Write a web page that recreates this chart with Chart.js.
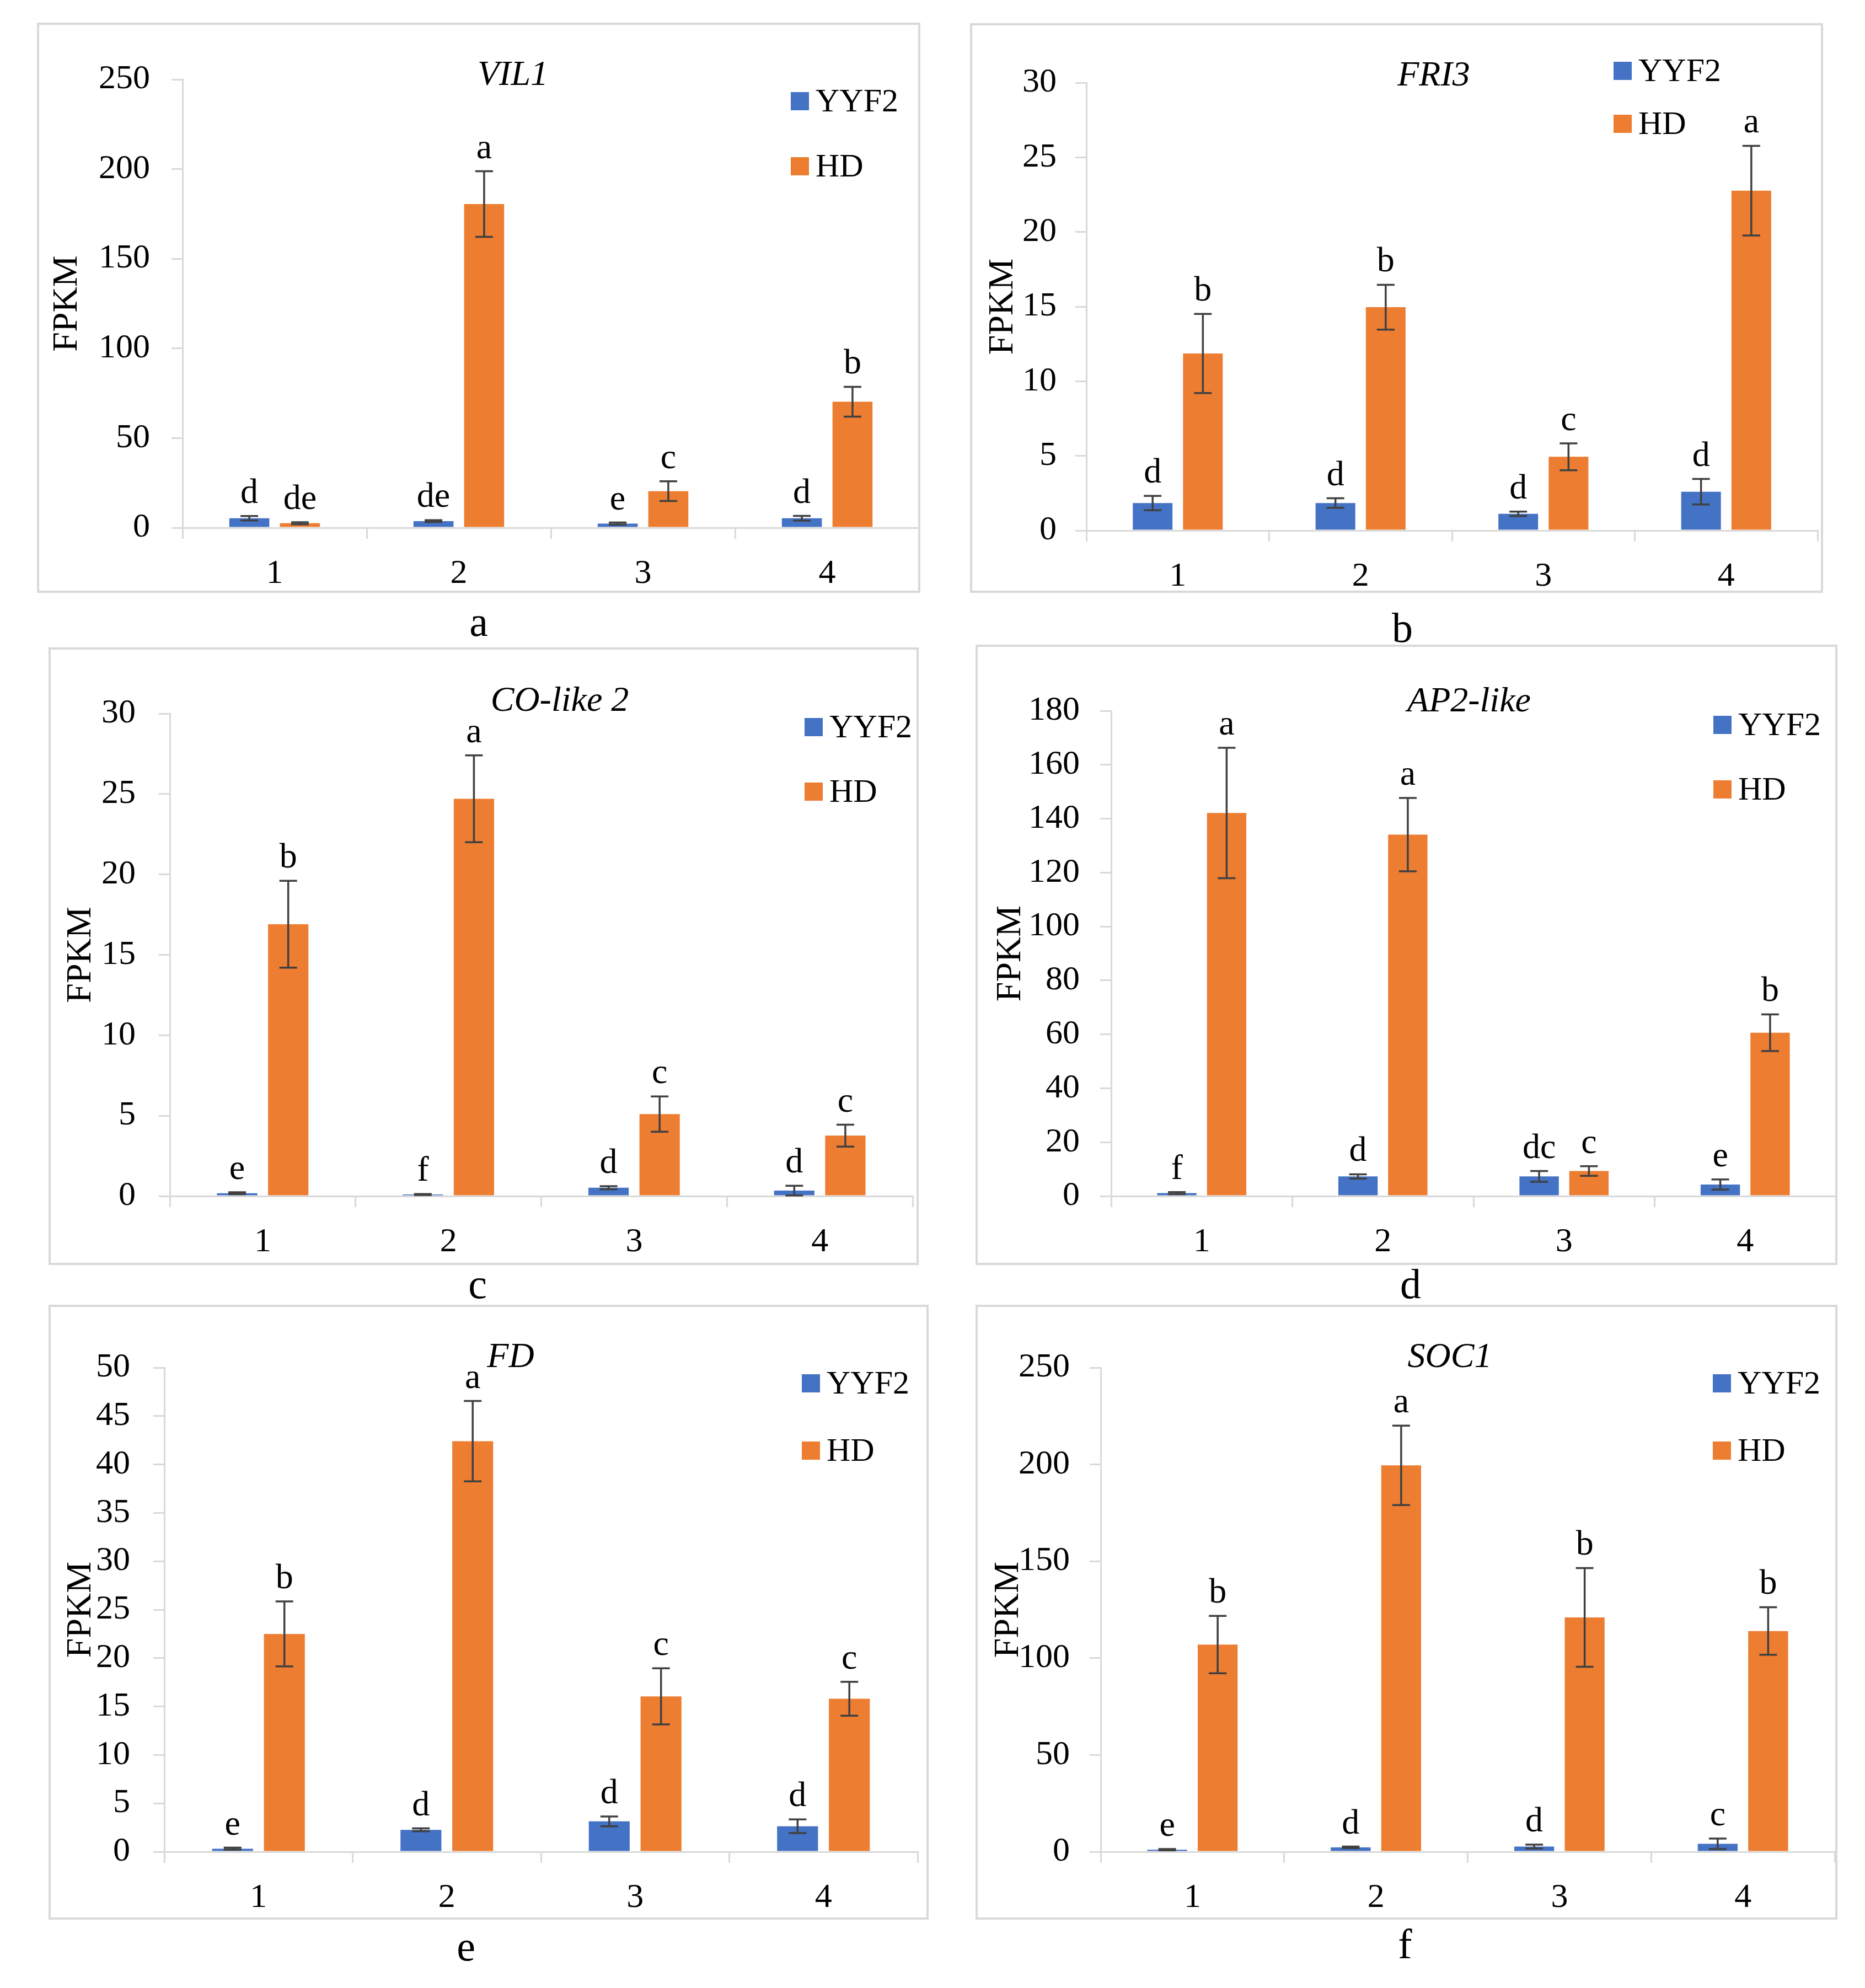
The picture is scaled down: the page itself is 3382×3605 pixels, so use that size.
<!DOCTYPE html>
<html>
<head>
<meta charset="utf-8">
<script src="https://cdn.jsdelivr.net/npm/chart.js@4.4.1/dist/chart.umd.min.js"></script>
<style>
html, body { margin: 0; padding: 0; background: #fff; }
body { width: 3382px; height: 3605px; position: relative; overflow: hidden; font-family: 'Liberation Serif', serif; }
.frame { position: absolute; border: 4px solid #d9d9d9; box-sizing: border-box; pointer-events: none; }
canvas { position: absolute; }
.tag { position: absolute; font-size: 76px; line-height: 1; color: #000; transform: translate(-50%, -50%); }
</style>
</head>
<body>
<script>
// Datos
const categories = ['1', '2', '3', '4'];
const seriesNames = ['YYF2', 'HD'];
const seriesColors = ['#4472C4', '#ED7D31'];

// a - VIL1
const vil1Yyf2 = [5.3, 3.7, 2.3, 5.3];
const vil1Hd = [2.5, 180.5, 20.4, 70.3];
const vil1Yyf2Err = [1.2, 0.5, 0.6, 1.3];
const vil1HdErr = [0.6, 18.3, 5.5, 8.3];
const vil1Yyf2Sig = ['d', 'de', 'e', 'd'];
const vil1HdSig = ['de', 'a', 'c', 'b'];

// b - FRI3
const fri3Yyf2 = [1.84, 1.84, 1.12, 2.6];
const fri3Hd = [11.86, 14.96, 4.94, 22.77];
const fri3Yyf2Err = [0.48, 0.32, 0.15, 0.85];
const fri3HdErr = [2.65, 1.5, 0.9, 3.0];
const fri3Yyf2Sig = ['d', 'd', 'd', 'd'];
const fri3HdSig = ['b', 'b', 'c', 'a'];

// c - CO-like 2
const colYyf2 = [0.18, 0.1, 0.52, 0.34];
const colHd = [16.9, 24.7, 5.1, 3.76];
const colYyf2Err = [0.06, 0.03, 0.1, 0.3];
const colHdErr = [2.7, 2.7, 1.1, 0.68];
const colYyf2Sig = ['e', 'f', 'd', 'd'];
const colHdSig = ['b', 'a', 'c', 'c'];

// d - AP2-like
const ap2Yyf2 = [1.1, 7.3, 7.3, 4.3];
const ap2Hd = [142.1, 134.1, 9.3, 60.6];
const ap2Yyf2Err = [0.4, 0.8, 2.0, 1.9];
const ap2HdErr = [24.2, 13.6, 1.8, 6.8];
const ap2Yyf2Sig = ['f', 'd', 'dc', 'e'];
const ap2HdSig = ['a', 'a', 'c', 'b'];

// e - FD
const fdYyf2 = [0.32, 2.27, 3.14, 2.64];
const fdHd = [22.5, 42.4, 16.05, 15.8];
const fdYyf2Err = [0.1, 0.15, 0.5, 0.7];
const fdHdErr = [3.35, 4.15, 2.9, 1.75];
const fdYyf2Sig = ['e', 'd', 'd', 'd'];
const fdHdSig = ['b', 'a', 'c', 'c'];

// f - SOC1
const soc1Yyf2 = [1.1, 2.3, 2.7, 4.1];
const soc1Hd = [107, 199.5, 121, 114];
const soc1Yyf2Err = [0.3, 0.4, 1.0, 2.7];
const soc1HdErr = [14.8, 20.5, 25.5, 12.3];
const soc1Yyf2Sig = ['e', 'd', 'd', 'c'];
const soc1HdSig = ['b', 'a', 'b', 'b'];

// Ejes
const panelTags = ['a', 'b', 'c', 'd', 'e', 'f'];
const geneNames = ['VIL1', 'FRI3', 'CO-like 2', 'AP2-like', 'FD', 'SOC1'];
const yMax = [250, 30, 30, 180, 50, 250];
const yStep = [50, 5, 5, 20, 5, 50];
const yTitle = 'FPKM';

const panels = [
    { values: [vil1Yyf2, vil1Hd], errors: [vil1Yyf2Err, vil1HdErr], sig: [vil1Yyf2Sig, vil1HdSig] },
    { values: [fri3Yyf2, fri3Hd], errors: [fri3Yyf2Err, fri3HdErr], sig: [fri3Yyf2Sig, fri3HdSig] },
    { values: [colYyf2, colHd], errors: [colYyf2Err, colHdErr], sig: [colYyf2Sig, colHdSig] },
    { values: [ap2Yyf2, ap2Hd], errors: [ap2Yyf2Err, ap2HdErr], sig: [ap2Yyf2Sig, ap2HdSig] },
    { values: [fdYyf2, fdHd], errors: [fdYyf2Err, fdHdErr], sig: [fdYyf2Sig, fdHdSig] },
    { values: [soc1Yyf2, soc1Hd], errors: [soc1Yyf2Err, soc1HdErr], sig: [soc1Yyf2Sig, soc1HdSig] }
];

// Posiciones en la página (px)
const layout = [
    { box: [67, 41, 1602, 1034], area: [331, 144, 1667, 957], gap: 59, fpkmX: 122, title: [930, 137], legend: [1434, 184, 302], tag: [868, 1127] },
    { box: [1759, 42, 1547, 1033], area: [1970, 150, 3296, 962], gap: 54, fpkmX: 1819, title: [2600, 138], legend: [2926, 129, 225], tag: [2543, 1138] },
    { box: [88, 1174, 1578, 1120], area: [308, 1294, 1655, 2169], gap: 62, fpkmX: 147, title: [1015, 1272], legend: [1459, 1319, 1436], tag: [866, 2328] },
    { box: [1769, 1169, 1563, 1125], area: [2015, 1289, 3329, 2169], gap: 57, fpkmX: 1833, title: [2664, 1273], legend: [3107, 1315, 1432], tag: [2558, 2328] },
    { box: [88, 2366, 1596, 1115], area: [298, 2480, 1664, 3358], gap: 62, fpkmX: 147, title: [926, 2462], legend: [1454, 2509, 2631], tag: [845, 3529] },
    { box: [1769, 2366, 1563, 1115], area: [1996, 2480, 3327, 3358], gap: 56, fpkmX: 1829, title: [2629, 2462], legend: [3106, 2509, 2631], tag: [2548, 3525] }
];

const FONT = '"Liberation Serif", serif';
const AXIS_GRAY = '#d9d9d9';
const TICK_LEN = 20;

// Barras de error, letras, título, leyenda y FPKM
const decorPlugin = {
    id: 'decor',
    afterDatasetsDraw(chart, args, opts) {
        const ctx = chart.ctx;
        const y = chart.scales.y;
        chart.data.datasets.forEach((ds, i) => {
            const meta = chart.getDatasetMeta(i);
            meta.data.forEach((bar, j) => {
                const v = ds.data[j];
                const e = ds.errors[j];
                const top = y.getPixelForValue(v + e);
                const bot = y.getPixelForValue(v - e);
                ctx.save();
                ctx.strokeStyle = '#404040';
                ctx.lineWidth = 3.5;
                ctx.beginPath();
                ctx.moveTo(bar.x, top); ctx.lineTo(bar.x, bot);
                ctx.moveTo(bar.x - 16, top); ctx.lineTo(bar.x + 16, top);
                ctx.moveTo(bar.x - 16, bot); ctx.lineTo(bar.x + 16, bot);
                ctx.stroke();
                ctx.fillStyle = '#000';
                ctx.font = '64px ' + FONT;
                ctx.textAlign = 'center';
                ctx.textBaseline = 'alphabetic';
                ctx.fillText(ds.letters[j], bar.x, top - 24);
                ctx.restore();
            });
        });
    },
    afterDraw(chart, args, opts) {
        const ctx = chart.ctx;
        const ox = opts.ox, oy = opts.oy;
        ctx.save();
        ctx.fillStyle = '#000';
        ctx.textBaseline = 'middle';

        // título del gen
        ctx.font = 'italic 64px ' + FONT;
        ctx.textAlign = 'center';
        ctx.fillText(opts.title, opts.titleAt[0] - ox, opts.titleAt[1] - oy);

        // leyenda
        ctx.font = '60px ' + FONT;
        ctx.textAlign = 'left';
        chart.data.datasets.forEach((ds, i) => {
            const cy = opts.legend[i + 1] - oy;
            const sx = opts.legend[0] - ox;
            ctx.fillStyle = ds.backgroundColor;
            ctx.fillRect(sx, cy - 17, 33, 33);
            ctx.fillStyle = '#000';
            ctx.fillText(ds.label, sx + 45, cy + 2);
        });

        // título del eje y
        const area = chart.chartArea;
        ctx.translate(opts.fpkmX - ox, (area.top + area.bottom) / 2);
        ctx.rotate(-Math.PI / 2);
        ctx.textAlign = 'center';
        ctx.font = '64px ' + FONT;
        ctx.fillText(yTitle, 0, 0);
        ctx.restore();
    }
};

function buildPanel(k) {
    const p = panels[k];
    const L = layout[k];
    const [bx, by, bw, bh] = L.box;
    const [al, at, ar, ab] = L.area;

    const canvas = document.createElement('canvas');
    canvas.width = bw;
    canvas.height = bh;
    canvas.style.left = bx + 'px';
    canvas.style.top = by + 'px';
    document.body.appendChild(canvas);

    const frame = document.createElement('div');
    frame.className = 'frame';
    frame.style.left = bx + 'px';
    frame.style.top = by + 'px';
    frame.style.width = bw + 'px';
    frame.style.height = bh + 'px';
    document.body.appendChild(frame);

    const tag = document.createElement('div');
    tag.className = 'tag';
    tag.textContent = panelTags[k];
    tag.style.left = L.tag[0] + 'px';
    tag.style.top = L.tag[1] + 'px';
    document.body.appendChild(tag);

    const datasets = seriesNames.map((name, i) => ({
        label: name,
        data: p.values[i],
        errors: p.errors[i],
        letters: p.sig[i],
        backgroundColor: seriesColors[i],
        borderWidth: 0,
        categoryPercentage: 0.55,
        barPercentage: 0.79
    }));

    new Chart(canvas, {
        type: 'bar',
        data: { labels: categories, datasets },
        options: {
            responsive: false,
            devicePixelRatio: 1,
            animation: false,
            events: [],
            layout: { padding: { left: 0, top: at - by, right: bx + bw - ar, bottom: 0 } },
            plugins: {
                legend: { display: false },
                tooltip: { enabled: false },
                decor: {
                    ox: bx, oy: by,
                    title: geneNames[k],
                    titleAt: L.title,
                    legend: L.legend,
                    fpkmX: L.fpkmX
                }
            },
            scales: {
                x: {
                    grid: { display: true, offset: true, drawOnChartArea: false, drawTicks: true, tickLength: TICK_LEN, color: AXIS_GRAY, lineWidth: 3 },
                    border: { display: true, color: AXIS_GRAY, width: 3 },
                    ticks: { color: '#000', padding: 27, font: { family: FONT, size: 62 } },
                    afterFit: (s) => { s.height = by + bh - ab; }
                },
                y: {
                    min: 0,
                    max: yMax[k],
                    grid: { display: true, drawOnChartArea: false, drawTicks: true, tickLength: TICK_LEN, color: AXIS_GRAY, lineWidth: 3 },
                    border: { display: true, color: AXIS_GRAY, width: 3 },
                    ticks: { stepSize: yStep[k], color: '#000', padding: L.gap - TICK_LEN, font: { family: FONT, size: 62 } },
                    afterFit: (s) => { s.width = al - bx; }
                }
            }
        },
        plugins: [decorPlugin]
    });
}

for (let k = 0; k < panels.length; k++) buildPanel(k);
</script>
</body>
</html>
